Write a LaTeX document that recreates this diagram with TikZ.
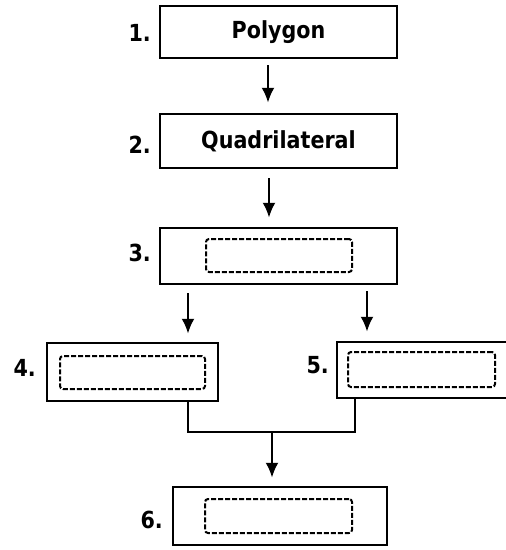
\documentclass[tikz,border=0pt]{standalone}
\usepackage{fontspec}
\setmainfont{DejaVu Sans}[FakeStretch=0.88]
\usetikzlibrary{shapes,arrows.meta}
\usetikzlibrary{calc}

\begin{document}
\begin{tikzpicture}[x=1pt,y=-1pt,
	box/.style={draw,line width=2.4pt,inner sep=0pt,font=\fontsize{23.5}{27}\selectfont\bfseries},
	slot/.style={draw,dashed,dash pattern=on 5pt off 2pt,line width=2pt,rounded corners=3pt,inner sep=0pt},
	num/.style={anchor=east,inner sep=0pt,font=\fontsize{23.5}{27}\selectfont\bfseries},
	link/.style={line width=2.4pt},
	arr/.style={line width=2.6pt,-{Latex[length=15pt,width=13pt]}}]
	\useasboundingbox (0,0) rectangle (506,550);
	
	% boxes
	\node[box,minimum width=237pt,minimum height=52pt] (b1) at (278.5,32) {Polygon};
	\node[box,minimum width=237pt,minimum height=54pt] (b2) at (278.5,141) {Quadrilateral};
	\node[box,minimum width=237pt,minimum height=56pt] (b3) at (278.5,256) {};
	\node[box,minimum width=171pt,minimum height=58pt] (b4) at (132.5,372) {};
	\node[box,minimum width=173pt,minimum height=56pt] (b5) at (423.5,370) {};
	\node[box,minimum width=214pt,minimum height=58pt] (b6) at (280,516) {};
	
	% empty slots
	\node[slot,minimum width=146pt,minimum height=33pt] (s3) at (279,255.5) {};
	\node[slot,minimum width=145pt,minimum height=33pt] (s4) at (132.5,372.5) {};
	\node[slot,minimum width=147pt,minimum height=35pt] (s5) at (421.5,369.5) {};
	\node[slot,minimum width=147pt,minimum height=34pt] (s6) at (278.5,516) {};
	
	% numbers
	\node[num] (n1) at (151,33) {1.};
	\node[num] (n2) at (151,145) {2.};
	\node[num] (n3) at (151,253) {3.};
	\node[num] (n4) at (36,368) {4.};
	\node[num] (n5) at (329,365) {5.};
	\node[num] (n6) at (163,520) {6.};
	
	% arrows
	\coordinate (x1) at (268,0);
	\coordinate (x2) at (269,0);
	\coordinate (x4) at (188,0);
	\coordinate (x5) at (367,0);
	\draw[arr,shorten <=6pt,shorten >=10pt] (b1.south -| x1) -- (b2.north -| x1);
	\draw[arr,shorten <=9pt,shorten >=9pt] (b2.south -| x2) -- (b3.north -| x2);
	\draw[arr,shorten <=8pt,shorten >=8pt] (b3.south -| x4) -- (b4.north -| x4);
	\draw[arr,shorten <=6pt,shorten >=9pt] (b3.south -| x5) -- (b5.north -| x5);
	
	\coordinate (j4) at (188,432);
	\coordinate (j5) at (355,432);
	\coordinate (m) at (272,432);
	\draw[link] (b4.south -| j4) -- (j4) -- (j5) -- (b5.south -| j5);
	\draw[arr,shorten >=8pt] (m) -- (b6.north -| m);
\end{tikzpicture}
\end{document}
